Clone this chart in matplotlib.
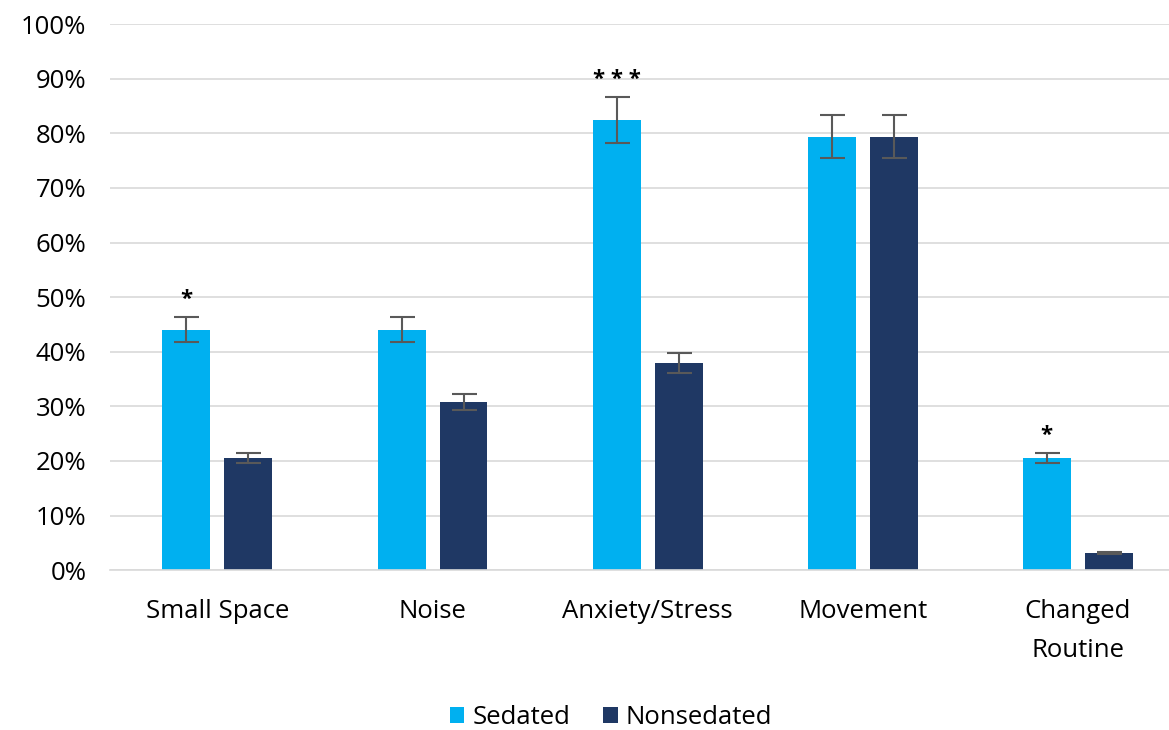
import matplotlib
matplotlib.use('Agg')
import matplotlib.pyplot as plt
import numpy as np

# data (percent)
categories = ['Small Space', 'Noise', 'Anxiety/Stress', 'Movement', 'Changed\nRoutine']
sedated = [44.0, 44.0, 82.4, 79.4, 20.5]
sedated_err = [2.3, 2.3, 4.2, 3.9, 0.9]
nonsedated = [20.5, 30.8, 37.9, 79.4, 3.2]
nonsedated_err = [0.9, 1.5, 1.8, 3.9, 0.2]
sig_marks = ['*', '', '* * *', '', '*']

plt.rcParams['font.family'] = ['Open Sans', 'DejaVu Sans']

fig = plt.figure(figsize=(11.69, 7.30), dpi=100)
# axes run past the right edge of the image, like the reference
ax = fig.add_axes([0.094, 0.219, 0.92, 0.748])

x = np.arange(len(categories))
width = 0.223
off = 0.144

ax.bar(x - off, sedated, width, color='#00B0F0', label='Sedated', zorder=2)
ax.bar(x + off, nonsedated, width, color='#1F3864', label='Nonsedated', zorder=2)
ax.errorbar(x - off, sedated, yerr=sedated_err, fmt='none', ecolor='#595959',
            elinewidth=1.5, capsize=9, capthick=1.5, zorder=3)
ax.errorbar(x + off, nonsedated, yerr=nonsedated_err, fmt='none', ecolor='#595959',
            elinewidth=1.5, capsize=9, capthick=1.5, zorder=3)

for i, mark in enumerate(sig_marks):
    if mark:
        ax.text(x[i] - off, sedated[i] + sedated_err[i] + 1.4, mark, ha='center',
                va='bottom', fontsize=16, fontweight='bold')

ax.set_ylim(0, 100)
ax.set_xlim(-0.5, len(categories) - 0.5)
ax.set_yticks(np.arange(0, 101, 10))
ax.set_yticklabels(['%d%%' % v for v in range(0, 101, 10)])
ax.set_xticks(x)
ax.set_xticklabels(categories, linespacing=1.7)
ax.grid(axis='y', color='#D9D9D9', linewidth=1.2, zorder=0)
ax.set_axisbelow(True)
for s in ['top', 'right', 'left']:
    ax.spines[s].set_visible(False)
ax.spines['bottom'].set_color('#D9D9D9')
ax.spines['bottom'].set_linewidth(1.2)
ax.tick_params(axis='both', length=0, labelsize=18.5, colors='#000000')
ax.tick_params(axis='x', pad=21)
ax.tick_params(axis='y', pad=17)

ax.legend(loc='center', bbox_to_anchor=(0.466, -0.27), ncol=2, frameon=False,
          fontsize=18.5, handlelength=0.55, handleheight=0.55, handletextpad=0.3,
          columnspacing=1.3)

fig.savefig('out.png', dpi=100)
